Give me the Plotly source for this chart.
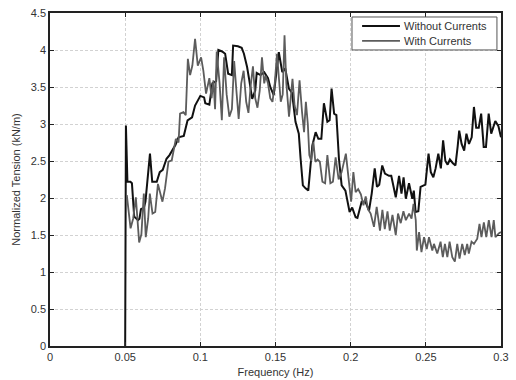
import plotly.graph_objects as go

# Without Currents (black)
freq_without = [0.0500, 0.0505, 0.0515, 0.0535, 0.0545, 0.0560, 0.0585, 0.0595, 0.0605, 0.0625,
                0.0635, 0.0665, 0.0680, 0.0710, 0.0730, 0.0750, 0.0775, 0.0795, 0.0835, 0.0855,
                0.0890, 0.0915, 0.0945, 0.0965, 0.1000, 0.1025, 0.1033, 0.1060, 0.1080, 0.1105,
                0.1120, 0.1145, 0.1165, 0.1185, 0.1210, 0.1218, 0.1250, 0.1275, 0.1290, 0.1311,
                0.1325, 0.1345, 0.1365, 0.1375, 0.1400, 0.1425, 0.1450, 0.1465, 0.1488, 0.1522,
                0.1545, 0.1565, 0.1589, 0.1610, 0.1633, 0.1655, 0.1667, 0.1682, 0.1700, 0.1718,
                0.1745, 0.1767, 0.1785, 0.1805, 0.1822, 0.1845, 0.1860, 0.1873, 0.1890, 0.1905,
                0.1922, 0.1940, 0.1965, 0.1978, 0.1993, 0.2010, 0.2033, 0.2045, 0.2073, 0.2098,
                0.2122, 0.2140, 0.2160, 0.2175, 0.2190, 0.2210, 0.2228, 0.2255, 0.2270, 0.2300,
                0.2322, 0.2338, 0.2352, 0.2367, 0.2388, 0.2410, 0.2420, 0.2432, 0.2450, 0.2465,
                0.2482, 0.2497, 0.2518, 0.2533, 0.2550, 0.2565, 0.2583, 0.2600, 0.2615, 0.2630,
                0.2645, 0.2660, 0.2680, 0.2697, 0.2712, 0.2722, 0.2738, 0.2755, 0.2770, 0.2787,
                0.2805, 0.2820, 0.2835, 0.2852, 0.2868, 0.2885, 0.2900, 0.2918, 0.2935, 0.2950,
                0.2962, 0.2983, 0.3000]
tension_without = [0.00, 2.98, 2.22, 2.22, 2.20, 1.75, 1.70, 1.72, 1.85, 1.87,
                   1.95, 2.60, 2.22, 2.22, 2.35, 2.38, 2.53, 2.58, 2.72, 2.82,
                   2.84, 3.05, 3.09, 3.25, 3.38, 3.36, 3.28, 3.26, 3.55, 3.58,
                   4.00, 3.98, 3.95, 3.68, 3.66, 4.06, 4.05, 4.03, 3.95, 3.77,
                   3.60, 3.34, 3.45, 3.69, 3.66, 3.70, 3.62, 3.50, 3.39, 3.97,
                   3.70, 3.75, 3.48, 3.42, 3.03, 2.87, 2.53, 2.17, 2.13, 2.10,
                   2.71, 2.89, 2.80, 2.80, 3.28, 3.03, 3.05, 3.48, 3.14, 3.12,
                   2.53, 2.17, 2.10, 1.95, 1.81, 1.87, 1.74, 1.73, 1.95, 1.95,
                   1.83, 2.06, 2.40, 2.15, 2.18, 2.44, 2.33, 2.30, 2.30, 2.01,
                   2.30, 2.06, 2.28, 1.99, 2.20, 1.99, 2.10, 1.81, 1.82, 2.15,
                   2.17, 2.18, 2.60, 2.35, 2.28, 2.40, 2.60, 2.40, 2.78, 2.50,
                   2.45, 2.52, 2.47, 2.44, 2.70, 2.91, 2.73, 2.64, 2.87, 2.73,
                   2.82, 3.23, 2.95, 2.95, 3.14, 2.69, 2.69, 3.14, 2.87, 2.95,
                   3.04, 2.97, 2.82]

# With Currents (gray)
freq_with = [0.0511, 0.0536, 0.0553, 0.0571, 0.0593, 0.0608, 0.0624, 0.0637, 0.0653, 0.0664,
             0.0682, 0.0700, 0.0718, 0.0732, 0.0748, 0.0765, 0.0788, 0.0810, 0.0837, 0.0855,
             0.0865, 0.0888, 0.0903, 0.0917, 0.0932, 0.0947, 0.0965, 0.0983, 0.1005, 0.1020,
             0.1038, 0.1060, 0.1075, 0.1087, 0.1098, 0.1109, 0.1128, 0.1143, 0.1158, 0.1175,
             0.1193, 0.1210, 0.1225, 0.1240, 0.1255, 0.1272, 0.1288, 0.1305, 0.1320, 0.1335,
             0.1350, 0.1365, 0.1380, 0.1395, 0.1410, 0.1425, 0.1435, 0.1450, 0.1465, 0.1480,
             0.1495, 0.1510, 0.1522, 0.1535, 0.1548, 0.1560, 0.1572, 0.1590, 0.1613, 0.1627,
             0.1643, 0.1660, 0.1677, 0.1690, 0.1702, 0.1715, 0.1725, 0.1738, 0.1752, 0.1765,
             0.1780, 0.1795, 0.1812, 0.1830, 0.1845, 0.1865, 0.1882, 0.1900, 0.1920, 0.1940,
             0.1968, 0.1985, 0.2003, 0.2018, 0.2033, 0.2050, 0.2068, 0.2085, 0.2100, 0.2115,
             0.2133, 0.2155, 0.2173, 0.2195, 0.2211, 0.2227, 0.2245, 0.2260, 0.2278, 0.2300,
             0.2315, 0.2333, 0.2351, 0.2367, 0.2389, 0.2405, 0.2418, 0.2433, 0.2440, 0.2455,
             0.2471, 0.2488, 0.2506, 0.2521, 0.2543, 0.2554, 0.2576, 0.2598, 0.2613, 0.2627,
             0.2643, 0.2658, 0.2676, 0.2693, 0.2709, 0.2724, 0.2742, 0.2759, 0.2775, 0.2786,
             0.2804, 0.2820, 0.2842, 0.2857, 0.2870, 0.2886, 0.2902, 0.2919, 0.2937, 0.2952,
             0.2963, 0.2985, 0.3000]
tension_with = [2.04, 1.59, 1.72, 2.01, 1.40, 1.51, 2.06, 1.47, 1.72, 2.06,
                1.79, 1.81, 2.19, 2.08, 1.95, 2.13, 2.49, 2.51, 2.80, 2.75,
                3.14, 3.16, 3.12, 3.88, 3.66, 3.79, 4.15, 3.79, 3.90, 3.72,
                3.41, 3.62, 3.35, 3.59, 3.20, 3.98, 3.55, 3.05, 3.90, 3.40,
                3.10, 3.20, 3.85, 3.45, 3.07, 3.55, 3.72, 3.30, 3.15, 3.52,
                3.78, 3.35, 3.22, 3.45, 3.90, 3.55, 3.65, 3.55, 3.35, 3.30,
                3.55, 3.95, 3.60, 3.30, 3.40, 4.20, 3.55, 3.10, 3.61, 3.25,
                3.12, 3.59, 3.15, 2.89, 3.30, 3.00, 2.58, 2.50, 2.76, 2.49,
                2.52, 2.49, 2.22, 2.20, 2.58, 2.20, 2.22, 2.55, 2.25, 2.35,
                2.60, 2.25, 1.95, 2.35, 2.08, 2.12, 2.05, 1.90, 2.02, 1.85,
                1.79, 1.61, 1.88, 1.56, 1.84, 1.58, 1.82, 1.56, 1.77, 1.50,
                1.79, 1.66, 1.82, 1.70, 1.79, 1.72, 1.92, 1.70, 1.29, 1.54,
                1.27, 1.47, 1.31, 1.47, 1.29, 1.38, 1.25, 1.41, 1.20, 1.38,
                1.20, 1.41, 1.20, 1.14, 1.38, 1.18, 1.38, 1.23, 1.38, 1.25,
                1.41, 1.38, 1.45, 1.65, 1.47, 1.67, 1.47, 1.70, 1.47, 1.70,
                1.47, 1.52, 1.54]

x_ticks = [0, 0.05, 0.1, 0.15, 0.2, 0.25, 0.3]
x_tick_labels = ["0", "0.05", "0.1", "0.15", "0.2", "0.25", "0.3"]
y_ticks = [0, 0.5, 1, 1.5, 2, 2.5, 3, 3.5, 4, 4.5]
y_tick_labels = ["0", "0.5", "1", "1.5", "2", "2.5", "3", "3.5", "4", "4.5"]
series_names = ["Without Currents", "With Currents"]
series_colors = ["#111111", "#5c5c5c"]

fig = go.Figure()
fig.add_trace(go.Scatter(x=freq_without, y=tension_without, mode="lines",
                         name=series_names[0],
                         line=dict(color=series_colors[0], width=2)))
fig.add_trace(go.Scatter(x=freq_with, y=tension_with, mode="lines",
                         name=series_names[1],
                         line=dict(color=series_colors[1], width=1.8)))

font = "Liberation Sans, Arial, sans-serif"
axis_common = dict(
    showline=True, linecolor="#222222", linewidth=1.5, mirror="ticks",
    ticks="inside", ticklen=4, tickcolor="#222222",
    showgrid=True, gridcolor="#d2d2d2", gridwidth=1, griddash="3px,2px",
    zeroline=False, automargin=False,
    tickfont=dict(family=font, size=11, color="#333333"),
)

# manual compact legend (MATLAB style) in paper coordinates
shapes = [
    dict(type="rect", xref="paper", yref="paper", x0=0.6696, x1=0.991, y0=0.889, y1=0.988,
         line=dict(color="#555555", width=1), fillcolor="white", layer="above"),
    dict(type="line", xref="paper", yref="paper", x0=0.692, x1=0.776, y0=0.961, y1=0.961,
         line=dict(color=series_colors[0], width=2), layer="above"),
    dict(type="line", xref="paper", yref="paper", x0=0.692, x1=0.776, y0=0.916, y1=0.916,
         line=dict(color=series_colors[1], width=1.8), layer="above"),
]
annotations = [
    dict(xref="paper", yref="paper", x=0.781, y=0.961, text=series_names[0], showarrow=False,
         xanchor="left", yanchor="middle", font=dict(family=font, size=11, color="#333333")),
    dict(xref="paper", yref="paper", x=0.781, y=0.916, text=series_names[1], showarrow=False,
         xanchor="left", yanchor="middle", font=dict(family=font, size=11, color="#333333")),
]

fig.update_layout(
    width=516, height=380,
    margin=dict(l=50, r=15, t=13, b=34, autoexpand=False),
    paper_bgcolor="white", plot_bgcolor="white",
    font=dict(family=font, size=11, color="#333333"),
    showlegend=False,
    shapes=shapes, annotations=annotations,
    xaxis=dict(range=[0, 0.3], tickvals=x_ticks, ticktext=x_tick_labels,
               title=dict(text="Frequency (Hz)", standoff=6,
                          font=dict(family=font, size=11, color="#333333")),
               **axis_common),
    yaxis=dict(range=[0, 4.5], tickvals=y_ticks, ticktext=y_tick_labels,
               title=dict(text="Normalized Tension (kN/m)", standoff=8,
                          font=dict(family=font, size=11, color="#333333")),
               **axis_common),
)

fig.write_html("out.html")
